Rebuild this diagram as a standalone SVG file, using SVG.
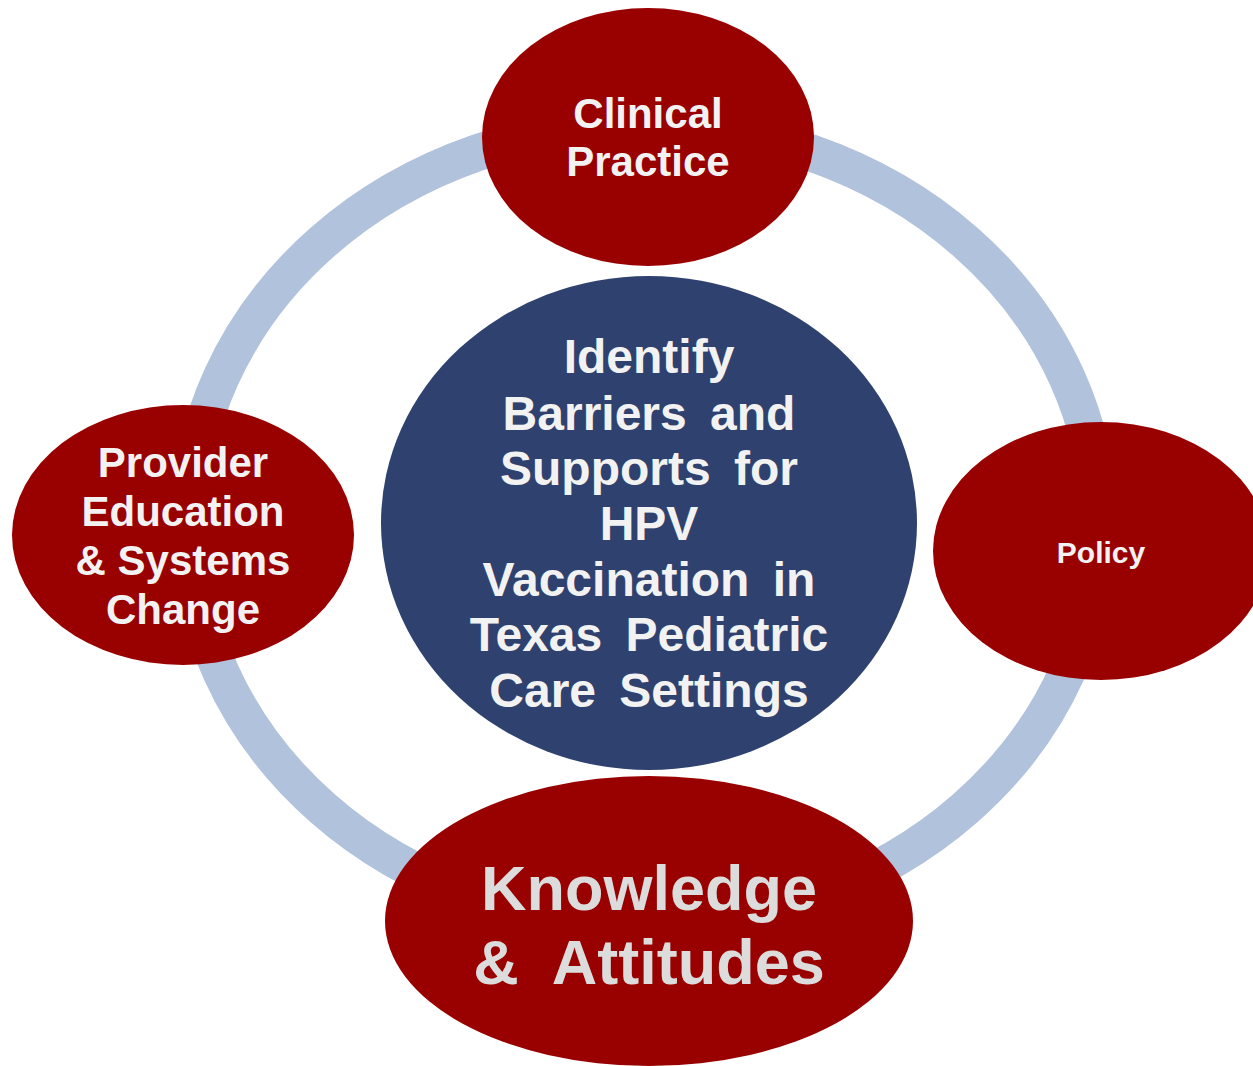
<svg xmlns="http://www.w3.org/2000/svg" width="1253" height="1066" viewBox="0 0 1253 1066">
<style>
.red{fill:#990000}
.navy{fill:#2F416E}
.t{font-family:"Liberation Sans",Arial,sans-serif;font-weight:bold;fill:#F2F2F2;text-anchor:middle}
.c{font-size:48px;word-spacing:10px}
.m{font-size:42px}
.k{font-size:63px;fill:#DCDCDC;word-spacing:18px}
</style>
<rect width="1253" height="1066" fill="#FFFFFF"/>
<g id="connectors">
<ellipse cx="644" cy="525" rx="455" ry="400" fill="none" stroke="#B1C2DC" stroke-width="37"/>
</g>
<g id="center">
<ellipse class="navy" cx="649" cy="523" rx="268" ry="247"/>
<text class="t c" x="649" y="373">Identify</text>
<text class="t c" x="649" y="430">Barriers and</text>
<text class="t c" x="649" y="485">Supports for</text>
<text class="t c" x="649" y="540">HPV</text>
<text class="t c" x="649" y="596">Vaccination in</text>
<text class="t c" x="649" y="651">Texas Pediatric</text>
<text class="t c" x="649" y="707">Care Settings</text>
</g>
<g id="clinical">
<ellipse class="red" cx="648" cy="137" rx="166" ry="129"/>
<text class="t m" x="648" y="128">Clinical</text>
<text class="t m" x="648" y="176">Practice</text>
</g>
<g id="provider">
<ellipse class="red" cx="183" cy="535" rx="171" ry="130"/>
<text class="t m" x="183" y="477">Provider</text>
<text class="t m" x="183" y="526">Education</text>
<text class="t m" x="183" y="575">&amp; Systems</text>
<text class="t m" x="183" y="624">Change</text>
</g>
<g id="policy">
<ellipse class="red" cx="1101" cy="551" rx="168" ry="129"/>
<text class="t" font-size="30" x="1101" y="563">Policy</text>
</g>
<g id="knowledge">
<ellipse class="red" cx="649" cy="921" rx="264" ry="145"/>
<text class="t k" x="649" y="910">Knowledge</text>
<text class="t k" x="649" y="984">&amp; Attitudes</text>
</g>
</svg>
